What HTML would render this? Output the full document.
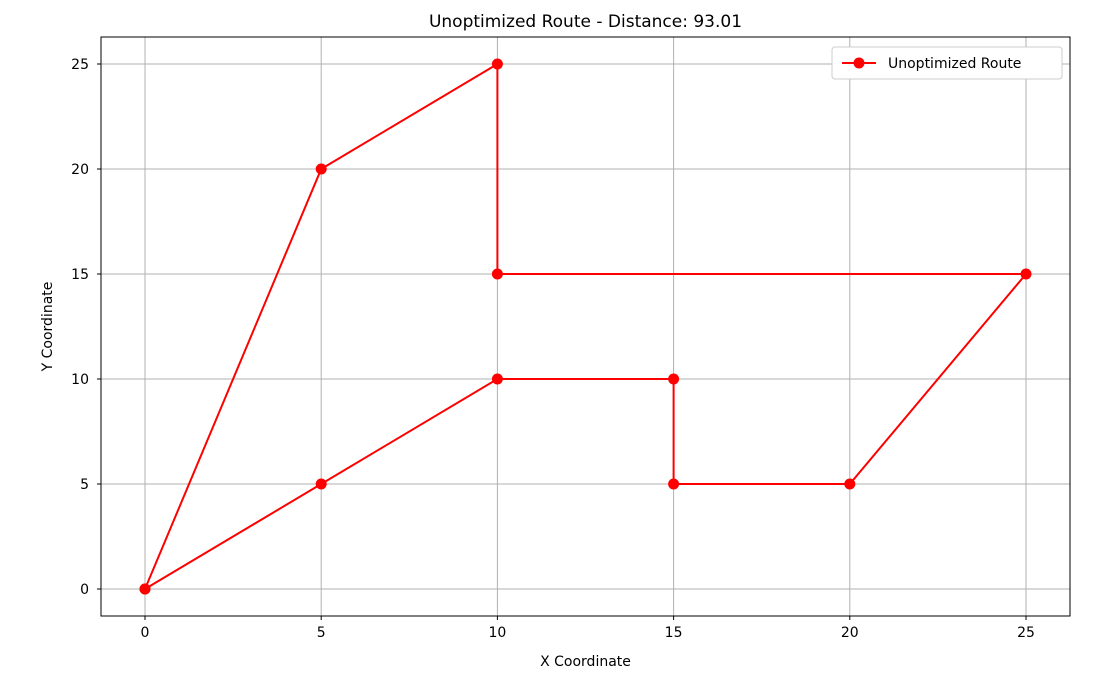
<!DOCTYPE html>
<html><head><meta charset="utf-8"><style>
body{margin:0;background:#fff;}
svg{font-family:"DejaVu Sans","Liberation Sans",sans-serif;}
</style></head><body>
<svg id="chart" width="1098" height="672" viewBox="0 0 1098 672"></svg>
<script>
const routeX=[0,5,10,10,25,20,15,15,10,5,0];
const routeY=[0,20,25,15,15,5,5,10,10,5,0];
const xTicks=[0,5,10,15,20,25];
const yTicks=[0,5,10,15,20,25];
const svg=document.getElementById('chart');
const NS='http://www.w3.org/2000/svg';
const L=101,R=1070,T=37,B=616;
const sx=v=>145+v*(1026-145)/25;
const sy=v=>589-v*(589-64)/25;
function mk(tag,attrs,parent){const e=document.createElementNS(NS,tag);for(const k in attrs)e.setAttribute(k,attrs[k]);(parent||svg).appendChild(e);return e;}
const grid=mk('g',{});


xTicks.forEach(t=>{
  const l=mk('line',{x1:sx(t),x2:sx(t),y1:T,y2:B,stroke:'#b0b0b0','stroke-width':1},grid);
  
  
  mk('line',{x1:sx(t),x2:sx(t),y1:B,y2:B+4,stroke:'#000'});
  const tx=mk('text',{x:sx(t),y:B+21,'text-anchor':'middle','font-size':14});
  tx.textContent=t;
  
  
});
yTicks.forEach(t=>{
  const l=mk('line',{x1:L,x2:R,y1:sy(t),y2:sy(t),stroke:'#b0b0b0','stroke-width':1},grid);
  
  
  mk('line',{x1:L-4,x2:L,y1:sy(t),y2:sy(t),stroke:'#000'});
  const tx=mk('text',{x:L-12,y:sy(t)+5,'text-anchor':'end','font-size':14});
  tx.textContent=t;
  
  
});
const pts=routeX.map((x,i)=>sx(x)+','+sy(routeY[i])).join(' ');
const line=mk('polyline',{points:pts,fill:'none',stroke:'#f00','stroke-width':2});


routeX.forEach((x,i)=>{
  const c=mk('circle',{cx:sx(x),cy:sy(routeY[i]),r:5.5,fill:'#f00'});
  
  
});
const frame=mk('rect',{x:L,y:T,width:R-L,height:B-T,fill:'none',stroke:'#000','stroke-width':1});


const title=mk('text',{x:(L+R)/2,y:27,'text-anchor':'middle','font-size':17});
title.textContent='Unoptimized Route - Distance: 93.01';


const xl=mk('text',{x:(L+R)/2,y:666,'text-anchor':'middle','font-size':14});
xl.textContent='X Coordinate';


const yl=mk('text',{x:0,y:0,'text-anchor':'middle','font-size':14,transform:'translate(52,'+((T+B)/2)+') rotate(-90)'});
yl.textContent='Y Coordinate';


const lg=mk('g',{});


mk('rect',{x:832,y:47,width:230,height:32,rx:3,fill:'#fff',stroke:'#ccc'},lg);
mk('line',{x1:842,x2:876,y1:63,y2:63,stroke:'#f00','stroke-width':2},lg);
mk('circle',{cx:859,cy:63,r:5.5,fill:'#f00'},lg);
const lt=mk('text',{x:888,y:68,'font-size':14},lg);
lt.textContent='Unoptimized Route';


</script>
</body></html>
